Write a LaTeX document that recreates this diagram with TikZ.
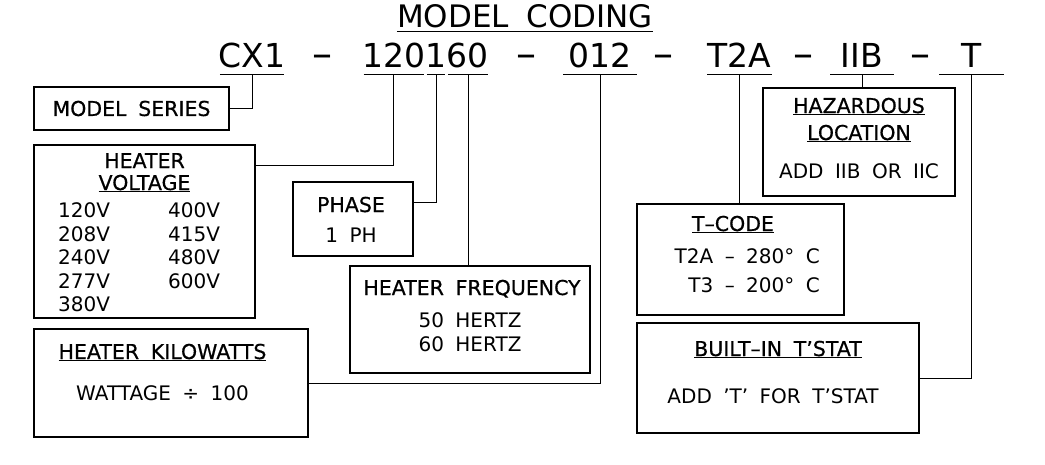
\documentclass[tikz,border=0pt]{standalone}
\usepackage{fontspec}
\setmainfont{DejaVu Sans}[WordSpace=1.8]
\newfontfamily\ttlfont{DejaVu Sans}[WordSpace=1.8, FakeBold=0.6]
\usetikzlibrary{positioning}
\newcommand{\ulbox}[1]{\setbox0=\hbox{#1}\rlap{\rule[-2.4pt]{\wd0}{1.1pt}}\box0}

\begin{document}
\begin{tikzpicture}[
  x=1pt, y=-1pt,
  box/.style={draw, line width=2pt, inner sep=0pt},
  code/.style={font=\fontsize{33}{36}\selectfont, inner xsep=0pt, inner ysep=7pt,
    text height=24pt, text depth=0pt, anchor=base},
  dashsym/.style={font=\fontsize{40}{44}\selectfont, inner sep=0pt, anchor=base},
  ttl/.style={font=\ttlfont\fontsize{20.5}{24}\selectfont, inner sep=0pt, anchor=base},
  val/.style={font=\fontsize{20}{24}\selectfont, inner sep=0pt, anchor=base},
  link/.style={line width=0.9pt},
  uline/.style={line width=1pt, shorten <=1.5pt, shorten >=1.5pt}
]
  \useasboundingbox (0,0) rectangle (1045,464);

  % heading and code line
  \node[code, font=\fontsize{31}{34}\selectfont, inner ysep=4pt, text height=23pt,
    minimum width=256pt] (head) at (525,27) {MODEL CODING};
  \draw[line width=1.4pt] (head.south west) -- (head.south east);

  \node[code, minimum width=60pt] (cx) at (252,67) {CX1};
  \node[dashsym] (d1) at (322,67) {–};
  \node[code, anchor=base west] (n120) at (362,67) {120};
  \node[code, anchor=base west] (n1) at (n120.base east) {1};
  \node[code, anchor=base west] (n60) at (n1.base east) {60};
  \node[dashsym] (d2) at (526,67) {–};
  \node[code, minimum width=76pt] (n012) at (600,67) {012};
  \node[dashsym] (d3) at (663,67) {–};
  \node[code, minimum width=67pt] (t2a) at (739.5,67) {T2A};
  \node[dashsym] (d4) at (803,67) {–};
  \node[code, minimum width=66pt] (iib) at (862,67) {IIB};
  \node[dashsym] (d5) at (920,67) {–};
  \node[code, minimum width=67pt] (tt) at (971.5,67) {T};
  \foreach \n in {cx,n120,n1,n60,n012,t2a,iib,tt}
    \draw[uline] (\n.south west) -- (\n.south east);

  % left column
  \node[box, minimum width=195pt, minimum height=43pt, anchor=north west,
    font=\ttlfont\fontsize{20.5}{24}\selectfont] (series) at (33,86) {MODEL SERIES};

  \node[box, minimum width=221pt, minimum height=173pt, anchor=north west] (volt) at (33,144) {};
  \node[ttl] (voltA) at ([yshift=-24pt]volt.north) {HEATER};
  \node[ttl] (voltB) at ([yshift=-46pt]volt.north) {\ulbox{VOLTAGE}};
  \foreach \v [count=\i] in {120V,208V,240V,277V,380V}
    \node[val, anchor=base west] (va\i) at ([xshift=-86.5pt, yshift={-50pt-23.5pt*\i}]volt.north) {\v};
  \foreach \v [count=\i] in {400V,415V,480V,600V}
    \node[val, anchor=base west] (vb\i) at ([xshift=23.5pt, yshift={-50pt-23.5pt*\i}]volt.north) {\v};

  \node[box, minimum width=274pt, minimum height=108pt, anchor=north west] (kw) at (33,328) {};
  \node[ttl] (kwA) at ([xshift=-8.5pt, yshift=-31pt]kw.north) {\ulbox{HEATER KILOWATTS}};
  \node[val] (kwB) at ([xshift=-8.5pt, yshift=-72pt]kw.north) {WATTAGE ÷ 100};

  % middle
  \node[box, minimum width=120pt, minimum height=74pt, anchor=north west] (phase) at (292,181) {};
  \node[ttl] (phA) at ([xshift=-2pt, yshift=-31pt]phase.north) {PHASE};
  \node[val] (phB) at ([xshift=-2pt, yshift=-61pt]phase.north) {1 PH};

  \node[box, minimum width=240pt, minimum height=107pt, anchor=north west] (freq) at (349,265) {};
  \node[ttl] (frA) at ([xshift=2pt, yshift=-30pt]freq.north) {HEATER FREQUENCY};
  \node[val] (frB) at ([yshift=-62pt]freq.north) {50 HERTZ};
  \node[val] (frC) at ([yshift=-86pt]freq.north) {60 HERTZ};

  % right
  \node[box, minimum width=192pt, minimum height=108pt, anchor=north west] (haz) at (762,87) {};
  \node[ttl] (hzA) at ([yshift=-26pt]haz.north) {\ulbox{HAZARDOUS}};
  \node[ttl] (hzB) at ([yshift=-53pt]haz.north) {\ulbox{LOCATION}};
  \node[val] (hzC) at ([yshift=-91pt]haz.north) {ADD IIB OR IIC};

  \node[box, minimum width=207pt, minimum height=111pt, anchor=north west] (tcode) at (636,203) {};
  \node[ttl] (tcA) at ([xshift=-7.5pt, yshift=-28pt]tcode.north) {\ulbox{T–CODE}};
  \node[val, anchor=base east] (tcB) at ([xshift=79.5pt, yshift=-60pt]tcode.north) {T2A – 280° C};
  \node[val, anchor=base east] (tcC) at ([xshift=79.5pt, yshift=-89pt]tcode.north) {T3 – 200° C};

  \node[box, minimum width=282pt, minimum height=110pt, anchor=north west] (tstat) at (636,322) {};
  \node[ttl] (tsA) at ([yshift=-34pt]tstat.north) {\ulbox{BUILT–IN T’STAT}};
  \node[val] (tsB) at ([xshift=-5pt, yshift=-81pt]tstat.north) {ADD ’T’ FOR T’STAT};

  % connectors
  \draw[link] (cx.south) |- (series.east);
  \draw[link] (n120.south) |- ([yshift=-21pt]volt.north east);
  \draw[link] (n1.south) |- ([yshift=-21pt]phase.north east);
  \draw[link] (n60.south) -- (n60.south |- freq.north);
  \draw[link] (n012.south) |- (kw.east);
  \draw[link] (t2a.south) -- (t2a.south |- tcode.north);
  \draw[link] (iib.south) -- (iib.south |- haz.north);
  \draw[link] (tt.south) |- (tstat.east);

\end{tikzpicture}
\end{document}
